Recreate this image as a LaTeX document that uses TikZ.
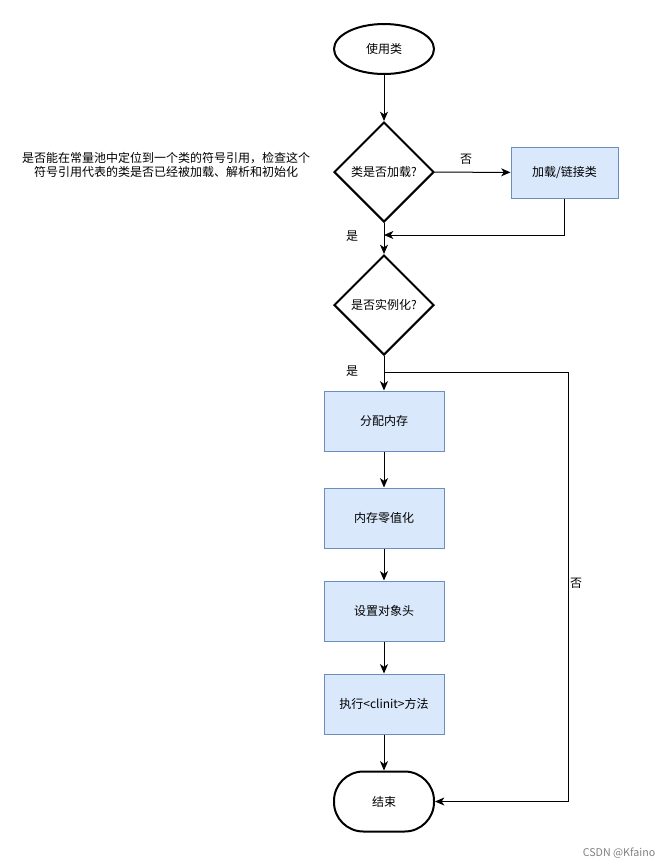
\documentclass[tikz,border=0pt]{standalone}
\usepackage{fontspec}
\setmainfont{Noto Sans CJK SC}
\usetikzlibrary{shapes.geometric,arrows.meta}
\definecolor{boxfill}{RGB}{218,232,252}
\definecolor{boxline}{RGB}{108,142,191}

\begin{document}
\begin{tikzpicture}[x=0.75pt,y=0.75pt,yscale=-1,xscale=1,
  every node/.style={font=\fontsize{9pt}{11pt}\selectfont},
  flowbox/.style={draw=boxline,fill=boxfill,line width=0.75pt,minimum width=90pt,minimum height=45pt,inner sep=0pt},
  termin/.style={draw,line width=1.5pt,ellipse,minimum width=75pt,minimum height=37.5pt,inner sep=0pt},
  stopbox/.style={draw,line width=1.5pt,rounded corners=22pt,minimum width=75pt,minimum height=45pt,inner sep=0pt},
  decide/.style={draw,line width=1.5pt,diamond,minimum width=75pt,minimum height=75pt,inner sep=0pt},
  conn/.style={draw,line width=0.75pt,-{Stealth[length=7pt,width=6pt,inset=2pt]}},
  lbl/.style={inner sep=0.75pt}]
        \useasboundingbox (0,0) rectangle (671,868);

        % Shapes
        \node [termin] (start) at (384,49) {使用类};
        \node [decide] (q1) at (384,172) {类是否加载?};
        \node [flowbox,minimum width=80.25pt,minimum height=38.25pt] (load) at (564.5,172.5) {加载/链接类};
        \node [decide] (q2) at (384,305) {是否实例化?};
        \node [flowbox] (alloc) at (384,421) {分配内存};
        \node [flowbox] (zero) at (384,518) {内存零值化};
        \node [flowbox] (head) at (384,611) {设置对象头};
        \node [flowbox] (clinit) at (384,704) {执行<clinit>方法};
        \node [stopbox] (end) at (384,801.5) {结束};

        % Joints
        \coordinate (join1) at (384,235);
        \coordinate (join2) at (384,372);
        \coordinate (rt) at (568,372);

        % Connectors
        \draw [conn] (start) -- (q1);
        \draw [conn] (q1) -- (load);
        \draw [conn] (load.south) |- (join1);
        \draw [conn] (q1) -- (q2);
        \draw [conn] (q2) -- (alloc);
        \draw [conn] (join2) -- (rt) |- (end.east);
        \draw [conn] (alloc) -- (zero);
        \draw [conn] (zero) -- (head);
        \draw [conn] (head) -- (clinit);
        \draw [conn] (clinit) -- (end);

        % Text Node
        \node [lbl] (no1) at (466,159) {否};
        \node [lbl] (yes1) at (352,236) {是};
        \node [lbl] (yes2) at (352,371) {是};
        \node [lbl] (no2) at (576,583) {否};
        \node [lbl,align=center] (note) at (166,165) {是否能在常量池中定位到一个类的符号引用，检查这个\\符号引用代表的类是否已经被加载、解析和初始化};
        \node [lbl,text=gray,font=\fontsize{8pt}{10pt}\selectfont] (mark) at (619,853) {CSDN @Kfaino};

\end{tikzpicture}
\end{document}
